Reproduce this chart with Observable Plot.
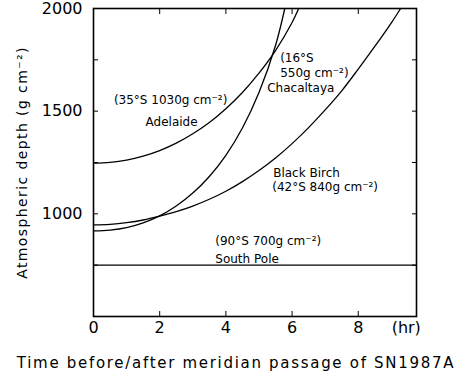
<!DOCTYPE html>
<html><head><meta charset="utf-8">
<script src="https://cdn.jsdelivr.net/npm/d3@7"></script>
<script src="https://cdn.jsdelivr.net/npm/@observablehq/plot@0.6"></script>
<style>body{margin:0;background:#fff}</style>
</head><body><div id="chart"></div>
<script>
// Tick values
const xTickLabels = [0, 2, 4, 6, 8];
const xTickMarks = [2, 4, 6, 8];
const yTickLabels = [1000, 1500, 2000];
const yTickMarks = [750, 1000, 1250, 1500, 1750];

// Series (hours from meridian passage, atmospheric depth g/cm^2)
const adelaideHours = [0, 0.5, 1, 1.5, 2, 2.5, 3, 3.5, 4, 4.5, 5, 5.5, 6, 6.2];
const adelaideDepth = [1247, 1251, 1262, 1281, 1308, 1344, 1390, 1445, 1512, 1591, 1685, 1795, 1932, 2000];

const chacaltayaHours = [0, 0.5, 1, 1.5, 2, 2.5, 3, 3.5, 4, 4.5, 5, 5.5, 5.78];
const chacaltayaDepth = [917, 921, 933, 956, 990, 1038, 1101, 1182, 1285, 1418, 1591, 1820, 2000];

const blackBirchHours = [0, 0.5, 1, 1.5, 2, 2.5, 3, 3.5, 4, 4.5, 5, 5.5, 6, 6.5, 7, 7.5, 8, 8.5, 9, 9.28];
const blackBirchDepth = [946, 949, 957, 970, 989, 1011, 1038, 1071, 1110, 1157, 1211, 1272, 1342, 1420, 1506, 1599, 1705, 1815, 1930, 2000];

const southPoleHours = [0, 9.76];
const southPoleDepth = [750, 750];

const seriesNames = ["Adelaide", "Chacaltaya", "Black Birch", "South Pole"];
const seriesHours = [adelaideHours, chacaltayaHours, blackBirchHours, southPoleHours];
const seriesDepth = [adelaideDepth, chacaltayaDepth, blackBirchDepth, southPoleDepth];

const rows = seriesNames.flatMap((name, k) =>
  seriesHours[k].map((h, i) => ({name, hour: h, depth: seriesDepth[k][i]})));

// Annotation texts
const labelTexts = ["(35°S 1030g cm⁻²)", "Adelaide", "(16°S", "550g cm⁻²)", "Chacaltaya",
  "Black Birch", "(42°S 840g cm⁻²)", "(90°S 700g cm⁻²)", "South Pole"];
const labelHours = [2.33, 2.36, 5.64, 5.64, 5.25, 5.43, 5.40, 3.68, 3.68];
const labelDepth = [1553, 1446, 1756, 1686, 1612, 1196, 1128, 869, 781];
const labelAnchor = ["middle", "middle", "start", "start", "start", "start", "start", "start", "start"];
const labels = labelTexts.map((t, i) => ({t, x: labelHours[i], y: labelDepth[i], a: labelAnchor[i]}));

const xTitle = "Time before/after meridian passage of SN1987A";
const yTitle = "Atmospheric depth (g cm⁻²)";
const xUnit = "(hr)";

const chart = Plot.plot({
  width: 461, height: 378,
  marginLeft: 93, marginRight: 45, marginTop: 8, marginBottom: 62,
  x: {domain: [0, 9.76]},
  y: {domain: [500, 2000]},
  style: {fontFamily: "DejaVu Sans, sans-serif", color: "#000", background: "#fff", overflow: "visible"},
  marks: [
    Plot.axisX(xTickLabels, {anchor: "bottom", tickSize: 0, tickPadding: 5, fontSize: 16, label: null}),
    Plot.axisX(xTickMarks, {anchor: "bottom", tickSize: -5, tickFormat: () => "", label: null}),
    Plot.axisX(xTickMarks, {anchor: "top", tickSize: -5, tickFormat: () => "", label: null}),
    Plot.axisY(yTickLabels, {anchor: "left", tickSize: 0, tickPadding: 11, fontSize: 16, tickFormat: d => String(d), label: null}),
    Plot.axisY(yTickMarks, {anchor: "left", tickSize: -5, tickFormat: () => "", label: null}),
    Plot.axisY(yTickMarks, {anchor: "right", tickSize: -5, tickFormat: () => "", label: null}),
    Plot.frame({stroke: "#000", strokeWidth: 1.6}),
    Plot.line(rows, {x: "hour", y: "depth", z: "name", curve: "catmull-rom", stroke: "#000", strokeWidth: 1.3, clip: true}),
    Plot.text(labels.filter(d => d.a === "middle"), {x: "x", y: "y", text: "t", fontSize: 12, textAnchor: "middle", fill: "#000"}),
    Plot.text(labels.filter(d => d.a === "start"), {x: "x", y: "y", text: "t", fontSize: 12, textAnchor: "start", fill: "#000"}),
    Plot.text([xUnit], {x: 9.45, frameAnchor: "bottom", dy: 5, lineAnchor: "top", fontSize: 16, fill: "#000"}),
    Plot.text([xTitle], {frameAnchor: "bottom", dy: 51, dx: -19, fontSize: 15, textAnchor: "middle", fill: "#000"}),
    Plot.text([yTitle], {frameAnchor: "left", dx: -71, rotate: -90, fontSize: 14, textAnchor: "middle", fill: "#000"})
  ]
});
d3.select(chart).selectAll("text").filter(function() { return this.textContent === xTitle; })
  .attr("letter-spacing", "1.7px");
d3.select(chart).selectAll("text").filter(function() { return this.textContent === yTitle; })
  .attr("letter-spacing", "1.4px");
document.getElementById("chart").appendChild(chart);
</script>
</body></html>
